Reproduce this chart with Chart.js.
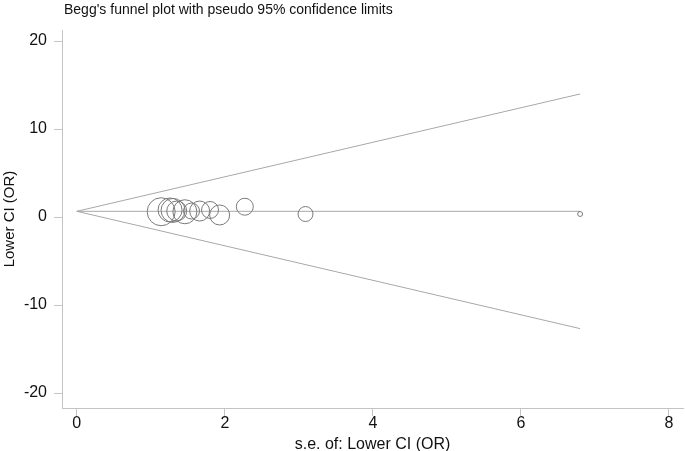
<!DOCTYPE html>
<html>
<head>
<meta charset="utf-8">
<title>Begg's funnel plot</title>
<script src="https://cdn.jsdelivr.net/npm/chart.js@4/dist/chart.umd.min.js"></script>
<style>
  html, body { margin: 0; padding: 0; background: #fff; }
  #wrap { width: 685px; height: 451px; }
</style>
</head>
<body>
<div id="wrap"><canvas id="chart" width="685" height="451"></canvas></div>
<script>
// studies: s.e. and value of the lower CI (OR)
const studySe = [1.14, 1.26, 1.30, 1.35, 1.46, 1.55, 1.66, 1.80, 1.93, 2.27, 3.09, 6.80];
const studyEst = [0.60, 0.80, 0.75, 0.68, 0.60, 0.68, 0.68, 0.80, 0.23, 1.17, 0.34, 0.34];
const studyWeight = [196, 144, 144, 100, 144, 64, 100, 72, 100, 72, 56, 6];

// pooled estimate and pseudo 95% confidence limits (at se = 0 and se = max)
const funnelSe = [0, 6.8];
const pooledLine = [0.65, 0.65];
const upperLimit = [0.65, 13.98];
const lowerLimit = [0.65, -12.68];

const xTicks = [0, 2, 4, 6, 8];
const yTicks = [-20, -10, 0, 10, 20];

const chartTitle = "Begg's funnel plot with pseudo 95% confidence limits";
const xTitle = 's.e. of: Lower CI (OR)';
const yTitle = 'Lower CI (OR)';

const sans = "'Liberation Sans', Arial, Helvetica, sans-serif";
const axisGrey = '#c4c4c4';
const lineGrey = '#a8a8a8';

function toPoints(xs, ys) {
  return xs.map((x, i) => ({x: x, y: ys[i]}));
}

function lineSet(ys) {
  return {
    type: 'line',
    data: toPoints(funnelSe, ys),
    borderColor: lineGrey,
    borderWidth: 1,
    pointRadius: 0,
    fill: false,
    tension: 0
  };
}

const titlePlugin = {
  id: 'plotTitle',
  afterDraw(chart) {
    const ctx = chart.ctx;
    ctx.save();
    ctx.font = '14px ' + sans;
    ctx.fillStyle = '#111';
    ctx.textBaseline = 'alphabetic';
    ctx.textAlign = 'left';
    ctx.fillText(chartTitle, 64, 14);
    ctx.restore();
  }
};

new Chart(document.getElementById('chart'), {
  type: 'scatter',
  data: {
    datasets: [
      {
        data: toPoints(studySe, studyEst),
        pointRadius: studyWeight.map(w => Math.sqrt(w)),
        pointHoverRadius: studyWeight.map(w => Math.sqrt(w)),
        pointStyle: 'circle',
        backgroundColor: 'rgba(0,0,0,0)',
        borderColor: '#7a7a7a',
        borderWidth: 1
      },
      lineSet(upperLimit),
      lineSet(lowerLimit),
      lineSet(pooledLine)
    ]
  },
  options: {
    responsive: false,
    animation: false,
    devicePixelRatio: 1,
    layout: {autoPadding: false, padding: {top: 30, right: 2, left: 0, bottom: 0}},
    plugins: {
      legend: {display: false},
      tooltip: {enabled: false}
    },
    scales: {
      x: {
        type: 'linear',
        min: -0.2,
        max: 8.19,
        afterBuildTicks: s => { s.ticks = xTicks.map(v => ({value: v})); },
        afterFit: s => { s.height = 43; s.paddingLeft = 0; s.paddingRight = 0; },
        border: {color: axisGrey, width: 1},
        grid: {drawOnChartArea: false, drawTicks: true, tickLength: 8, color: axisGrey},
        ticks: {
          color: '#111',
          font: {family: sans, size: 16, lineHeight: 0.8},
          padding: 1,
          maxRotation: 0,
          autoSkip: false
        },
        title: {
          display: true,
          text: xTitle,
          color: '#111',
          font: {family: sans, size: 16, lineHeight: 0.8},
          padding: {top: 0, bottom: 0}
        }
      },
      y: {
        type: 'linear',
        min: -21.7,
        max: 21.25,
        afterBuildTicks: s => { s.ticks = yTicks.map(v => ({value: v})); },
        afterFit: s => { s.width = 62; s.paddingTop = 0; s.paddingBottom = 0; },
        border: {color: axisGrey, width: 1},
        grid: {drawOnChartArea: false, drawTicks: true, tickLength: 8, color: axisGrey},
        ticks: {
          color: '#111',
          font: {family: sans, size: 16},
          padding: 7
        },
        title: {
          display: true,
          text: yTitle,
          color: '#111',
          font: {family: sans, size: 15},
          padding: {top: 1, bottom: 0}
        }
      }
    }
  },
  plugins: [titlePlugin]
});
</script>
</body>
</html>
